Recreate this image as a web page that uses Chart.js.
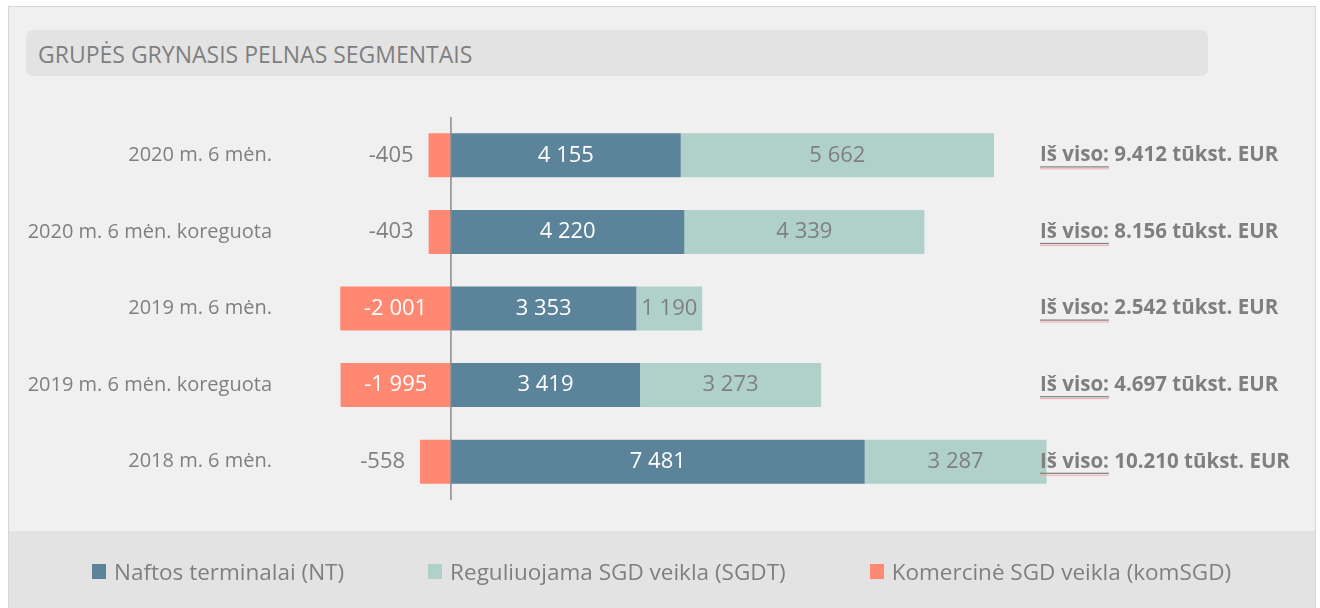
<!DOCTYPE html>
<html>
<head>
<meta charset="utf-8">
<script src="https://cdn.jsdelivr.net/npm/chart.js@4"></script>
<style>
  html, body { margin: 0; padding: 0; background: #fff; }
  body { width: 1320px; height: 608px; position: relative; overflow: hidden; font-family: "Open Sans", sans-serif; }
  #frame { position: absolute; left: 8px; top: 6px; width: 1306px; height: 610px; border: 1px solid #d6d6d6; background: #f0f0f0; }
  #band { position: absolute; left: 9px; top: 531px; width: 1306px; height: 80px; background: #e3e3e3; }
  #title { position: absolute; left: 26px; top: 30px; width: 1182px; height: 46px; border-radius: 7px; background: #e3e3e3;
           color: #7f7f7f; font-size: 23px; line-height: 48px; padding-left: 12px; box-sizing: border-box; }
  #chart { position: absolute; left: 0; top: 0; }
  #legend { position: absolute; left: 92px; top: 556px; display: flex; color: #7f7f7f; font-size: 22.5px; white-space: nowrap; }
  #legend .item { display: flex; align-items: center; margin-right: 84px; }
  #legend .box { width: 14px; height: 15px; margin-right: 8px; }
</style>
</head>
<body>
<div id="frame"></div>
<div id="band"></div>
<div id="title">GRUPĖS GRYNASIS PELNAS SEGMENTAIS</div>
<canvas id="chart" width="1320" height="608"></canvas>
<div id="legend"></div>
<script>
const categories = ['2020 m. 6 mėn.', '2020 m. 6 mėn. koreguota', '2019 m. 6 mėn.', '2019 m. 6 mėn. koreguota', '2018 m. 6 mėn.'];
const ntValues = [4155, 4220, 3353, 3419, 7481];
const sgdtValues = [5662, 4339, 1190, 3273, 3287];
const komValues = [-405, -403, -2001, -1995, -558];
const seriesNames = ['Naftos terminalai (NT)', 'Reguliuojama SGD veikla (SGDT)', 'Komercinė SGD veikla (komSGD)'];
const seriesColors = ['#5b8399', '#b0d1ca', '#ff8873'];
const labelColors = ['#ffffff', '#7f7f7f', '#ffffff'];

const FONT = '"Open Sans", sans-serif';
const GREY = '#7f7f7f';

// "4155" -> "4 155"
const fmtSpace = v => {
  const s = Math.abs(v).toString().replace(/\B(?=(\d{3})+(?!\d))/g, ' ');
  return (v < 0 ? '-' : '') + s;
};
const fmtDot = v => v.toString().replace(/\B(?=(\d{3})+(?!\d))/g, '.');

const totals = categories.map((c, i) => ntValues[i] + sgdtValues[i] + komValues[i]);

// bar value labels + zero line + totals
const barLabels = {
  id: 'barLabels',
  afterDatasetsDraw(chart) {
    const ctx = chart.ctx;
    const area = chart.chartArea;
    const x0 = chart.scales.x.getPixelForValue(0);

    ctx.save();
    ctx.strokeStyle = '#8a8a8a';
    ctx.lineWidth = 1.5;
    ctx.beginPath();
    ctx.moveTo(x0, area.top);
    ctx.lineTo(x0, area.bottom);
    ctx.stroke();

    ctx.font = '22px ' + FONT;
    ctx.textBaseline = 'middle';
    chart.data.datasets.forEach((ds, di) => {
      chart.getDatasetMeta(di).data.forEach((bar, i) => {
        const v = ds.data[i];
        const txt = fmtSpace(v);
        const w = ctx.measureText(txt).width;
        const left = Math.min(bar.x, bar.base);
        const right = Math.max(bar.x, bar.base);
        if (right - left > w + 8) {
          ctx.fillStyle = labelColors[di];
          ctx.textAlign = 'center';
          ctx.fillText(txt, (left + right) / 2, bar.y);
        } else {
          ctx.fillStyle = GREY;
          ctx.textAlign = 'right';
          ctx.fillText(txt, left - 15, bar.y);
        }
      });
    });

    // totals on the right
    const yScale = chart.scales.y;
    ctx.textAlign = 'left';
    ctx.font = 'bold 20.5px ' + FONT;
    categories.forEach((c, i) => {
      const y = yScale.getPixelForValue(i);
      const lead = 'Iš viso:';
      const rest = ' ' + fmtDot(totals[i]) + ' tūkst. EUR';
      const tx = 1040;
      ctx.fillStyle = GREY;
      ctx.fillText(lead, tx, y);
      const lw = ctx.measureText(lead).width;
      ctx.fillText(rest, tx + lw, y);
      ctx.fillRect(tx, y + 11, lw, 1.2);
      ctx.fillStyle = '#f2a8a8';
      ctx.fillRect(tx, y + 13, lw, 1);
    });
    ctx.restore();
  }
};

const chart = new Chart(document.getElementById('chart'), {
  type: 'bar',
  data: {
    labels: categories,
    datasets: [
      { label: seriesNames[0], data: ntValues, backgroundColor: seriesColors[0] },
      { label: seriesNames[1], data: sgdtValues, backgroundColor: seriesColors[1] },
      { label: seriesNames[2], data: komValues, backgroundColor: seriesColors[2] }
    ]
  },
  options: {
    indexAxis: 'y',
    responsive: false,
    animation: false,
    events: [],
    barPercentage: 0.575,
    categoryPercentage: 1,
    layout: { padding: { top: 117, bottom: 108, left: 0, right: 150 } },
    scales: {
      x: {
        stacked: true,
        display: false,
        min: -3000,
        max: 13000
      },
      y: {
        stacked: true,
        grid: { display: false, drawTicks: false },
        border: { display: false },
        ticks: { color: GREY, padding: 13, font: { family: FONT, size: 20 } },
        afterFit(scale) { scale.width = 285; }
      }
    },
    plugins: {
      legend: { display: false },
      tooltip: { enabled: false }
    }
  },
  plugins: [barLabels]
});

// html legend from the datasets
const legendEl = document.getElementById('legend');
chart.data.datasets.forEach(ds => {
  const item = document.createElement('div');
  item.className = 'item';
  const box = document.createElement('span');
  box.className = 'box';
  box.style.background = ds.backgroundColor;
  const txt = document.createElement('span');
  txt.textContent = ds.label;
  item.appendChild(box);
  item.appendChild(txt);
  legendEl.appendChild(item);
});
</script>
</body>
</html>
